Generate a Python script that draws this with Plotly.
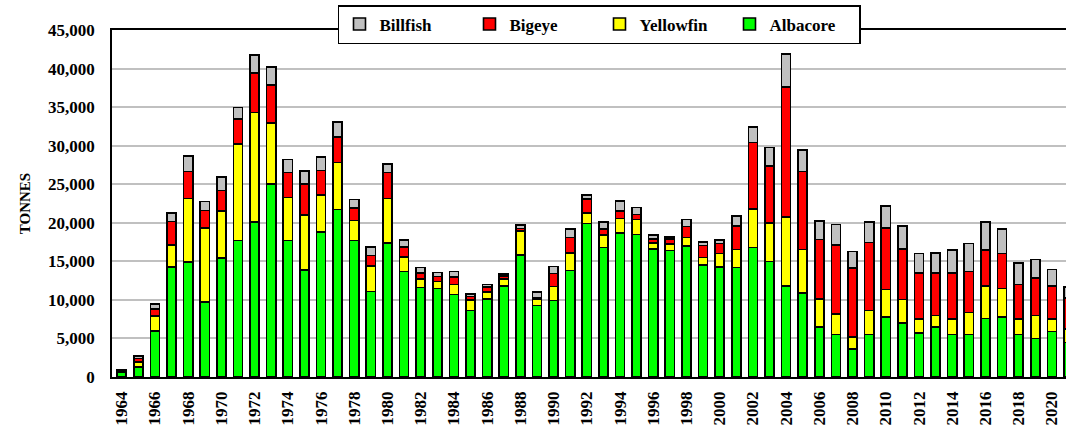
import plotly.graph_objects as go

years = list(range(1964, 2022))

albacore = [600, 1300, 6000, 14300, 14900, 9700, 15400, 17700, 20100, 25000,
            17700, 13900, 18800, 21700, 17700, 11100, 17400, 13700, 11600, 11500,
            10700, 8600, 10100, 11800, 15800, 9250, 9900, 13800, 19900, 16800,
            18700, 18500, 16600, 16400, 17000, 14500, 14300, 14200, 16800, 15000,
            11800, 10900, 6500, 5500, 3600, 5500, 7800, 7000, 5700, 6500,
            5500, 5500, 7600, 7800, 5500, 5000, 5900, 4500]
yellowfin = [100, 650, 1950, 2850, 8250, 9650, 6100, 12550, 14200, 7950,
             5600, 7100, 4800, 6100, 2600, 3300, 5750, 1850, 1100, 900,
             1290, 1390, 950, 900, 3150, 850, 1850, 2300, 1350, 1600,
             1850, 1950, 780, 860, 1080, 1000, 1730, 2330, 5000, 4950,
             8950, 5650, 3600, 2700, 1600, 3100, 3550, 3050, 1800, 1500,
             2000, 2850, 4200, 3700, 2000, 3000, 1650, 1750]
bigeye = [100, 450, 850, 3000, 3500, 2250, 2700, 3200, 5100, 4900,
          3200, 4000, 3200, 3350, 1600, 1350, 3350, 1300, 780, 640,
          1000, 460, 600, 400, 300, 150, 1680, 2000, 1800, 780,
          950, 650, 480, 600, 1420, 1550, 1300, 3050, 8600, 7400,
          16850, 10100, 7750, 8950, 8950, 8850, 8000, 6550, 5950, 5500,
          5950, 5350, 4650, 4500, 4500, 4850, 4250, 4000]
billfish = [100, 300, 650, 1100, 2000, 1150, 1700, 1500, 2350, 2350,
            1700, 1700, 1700, 1950, 1100, 1100, 1100, 950, 730, 500,
            700, 300, 330, 230, 430, 750, 900, 1100, 550, 900,
            1300, 900, 520, 260, 900, 430, 430, 1300, 2050, 2400,
            4300, 2800, 2400, 2650, 2150, 2650, 2800, 3000, 2550, 2550,
            3000, 3600, 3650, 3200, 2750, 2400, 2150, 1400]

tick_years = years[::2]
y_ticks = [0, 5000, 10000, 15000, 20000, 25000, 30000, 35000, 40000, 45000]

series = [("Albacore", albacore, "#00FF00"),
          ("Yellowfin", yellowfin, "#FFFF00"),
          ("Bigeye", bigeye, "#FF0000"),
          ("Billfish", billfish, "#C0C0C0")]

FONT = "Liberation Serif"

fig = go.Figure()
for name, vals, col in series:
    fig.add_trace(go.Bar(
        x=years, y=vals, name=name, width=0.55,
        marker=dict(color=col, line=dict(color="black", width=1.6)),
    ))

fig.update_layout(
    width=1066, height=429,
    margin=dict(l=112, r=0, t=30, b=52),
    barmode="stack",
    plot_bgcolor="white", paper_bgcolor="white",
    font=dict(family=FONT, size=17, color="black"),
    showlegend=True,
    legend=dict(
        orientation="h", traceorder="reversed",
        x=0.511, xanchor="center", y=1.072, yanchor="top",
        bgcolor="white", bordercolor="black", borderwidth=1.5,
        font=dict(family=FONT, size=17, color="black", weight="bold"),
        entrywidth=85, entrywidthmode="pixels",
    ),
    xaxis=dict(
        range=[1963.416, 2020.85],
        tickmode="array", tickvals=tick_years, ticktext=[str(y) for y in tick_years],
        tickangle=-90,
        tickfont=dict(family=FONT, size=17, color="black", weight="bold"),
        showgrid=False, showline=True, linecolor="black", linewidth=1.5,
        mirror=True, ticks="", ticklabelstandoff=6, automargin=False,
        zeroline=False,
    ),
    yaxis=dict(
        range=[0, 45000],
        tickmode="array", tickvals=y_ticks, tickformat=",",
        tickfont=dict(family=FONT, size=17, color="black", weight="bold"),
        showgrid=True, gridcolor="#C0C0C0", gridwidth=2,
        showline=True, linecolor="black", linewidth=1.5,
        ticks="", ticklabelstandoff=12, automargin=False, zeroline=False,
        title=dict(text="TONNES", standoff=14,
                   font=dict(family=FONT, size=15, color="black", weight="bold")),
    ),
)

fig.write_html("out.html", config={"displayModeBar": False},
               post_script="document.body.style.margin='0';")
